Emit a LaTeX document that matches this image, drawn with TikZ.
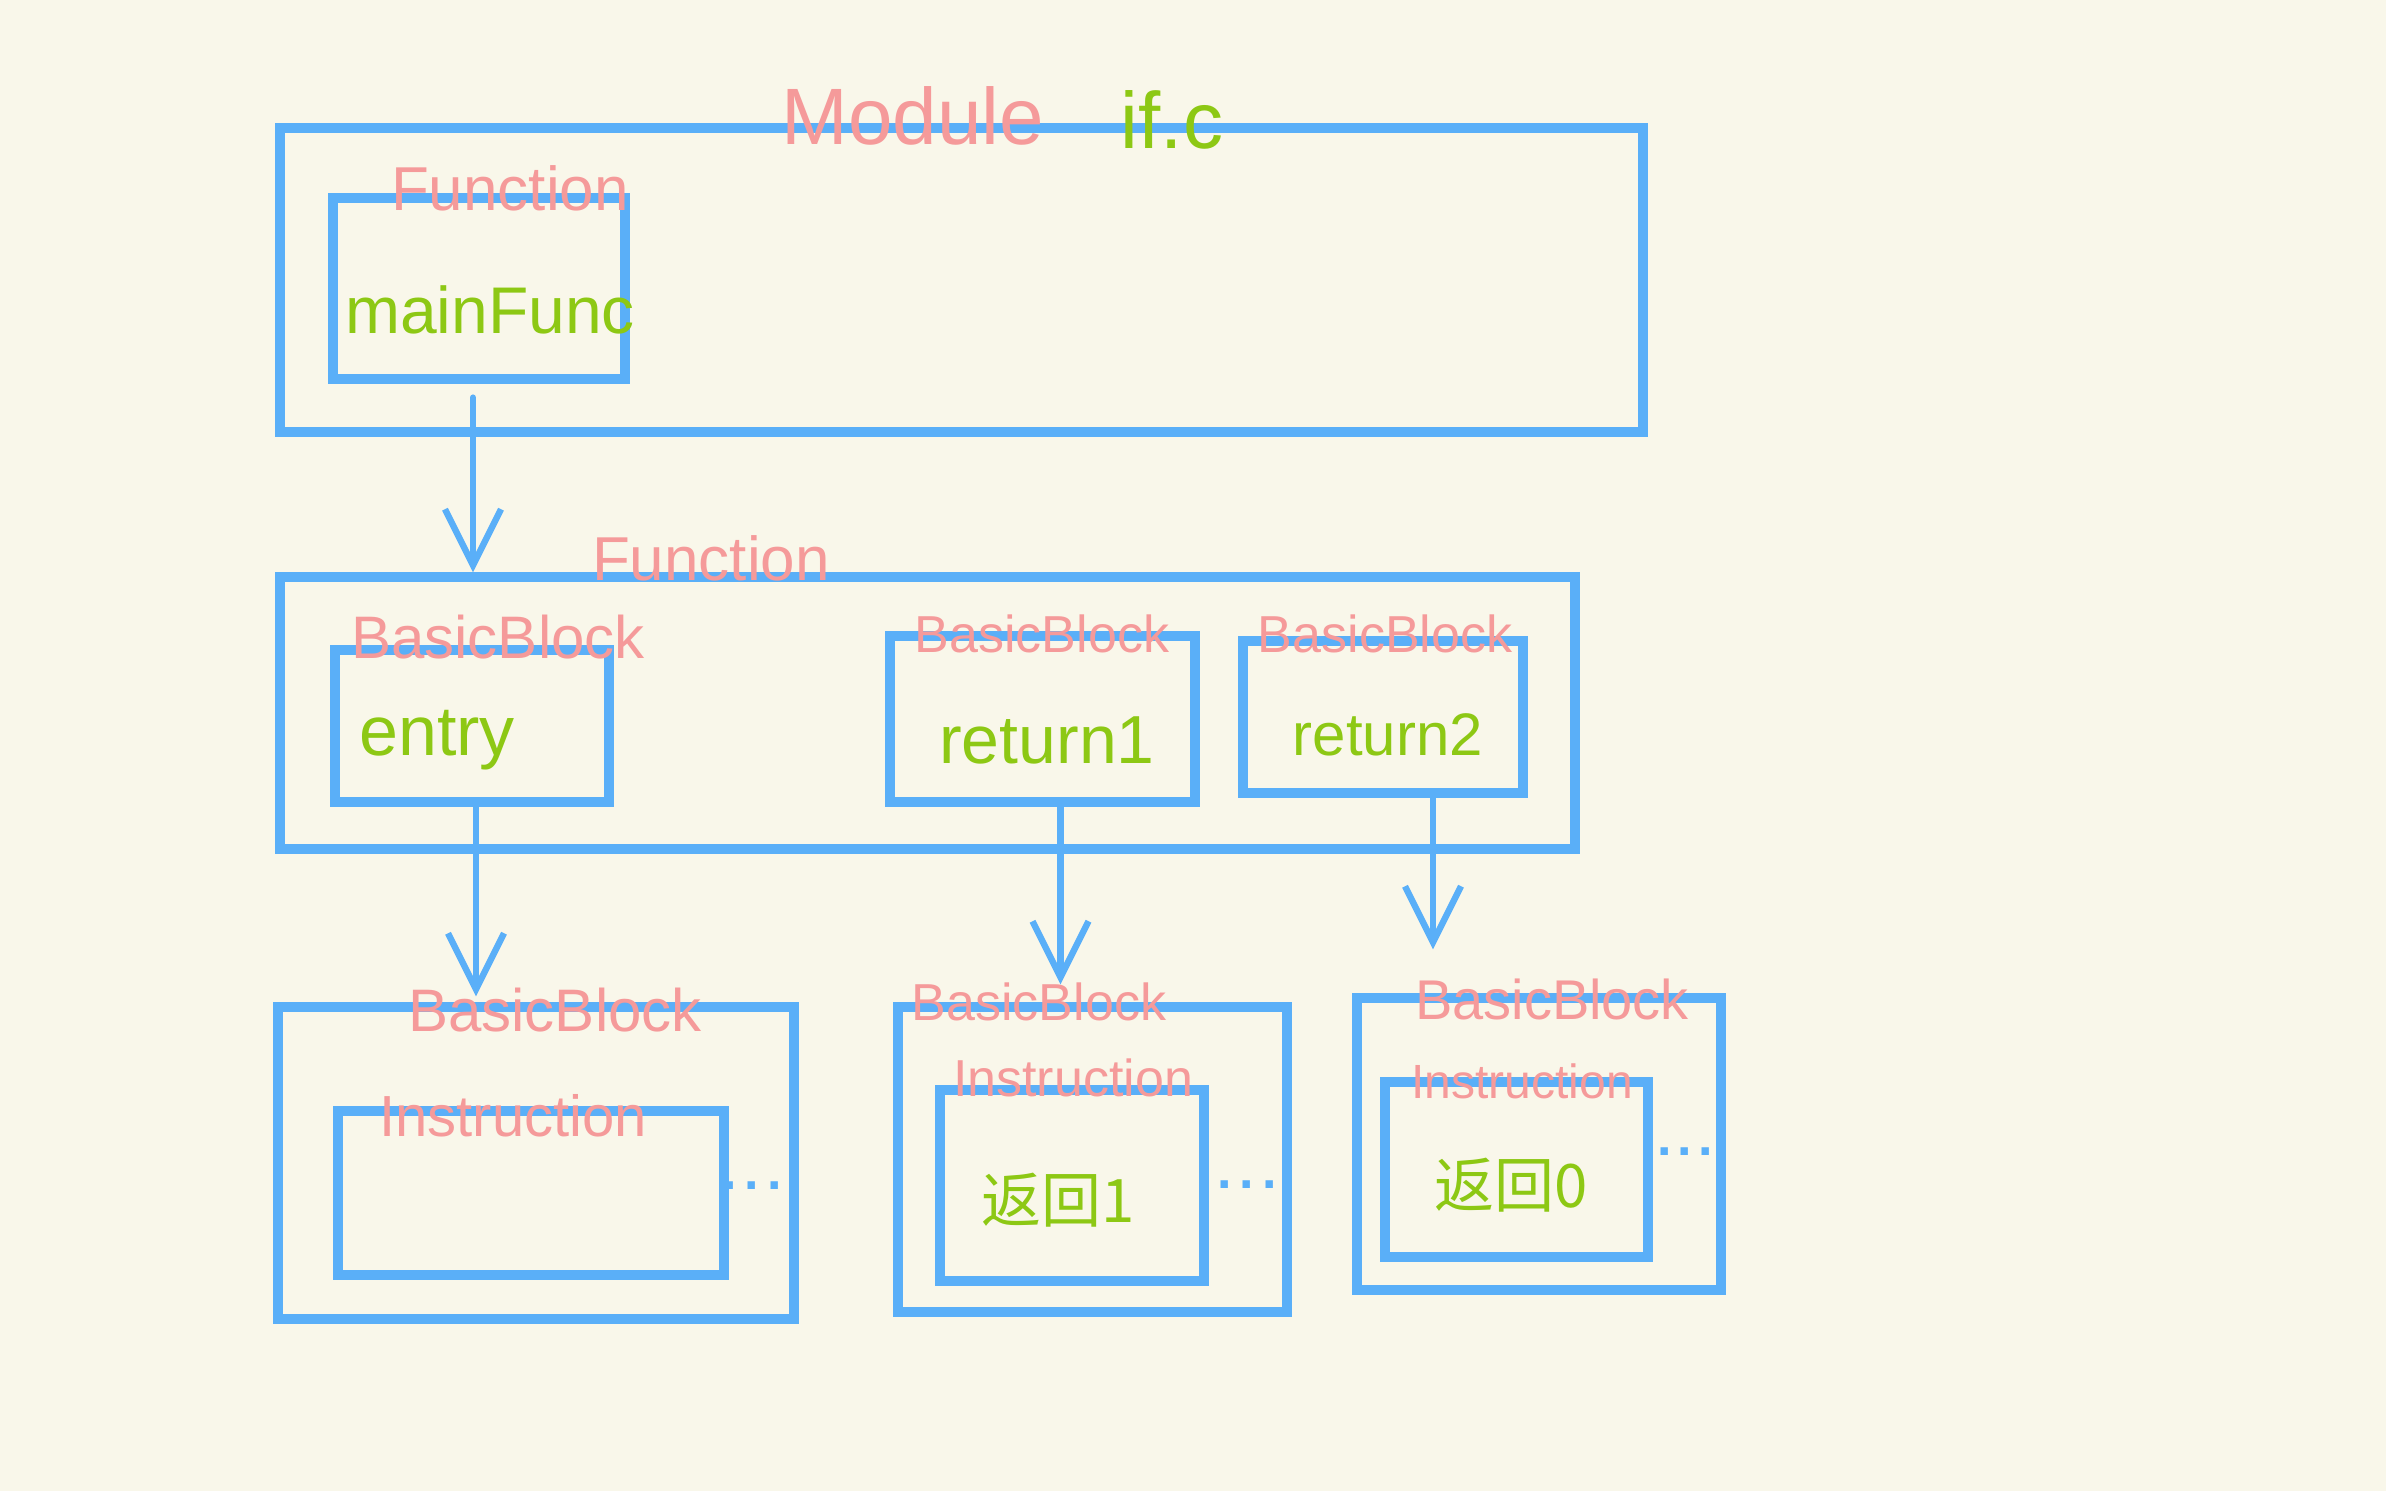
\documentclass[tikz,border=0pt]{standalone}
\usepackage{fontspec}
\setmainfont{Liberation Sans}
\newfontfamily\cjk{Noto Sans CJK SC}
\usetikzlibrary{arrows.meta}
\definecolor{bgc}{HTML}{F9F7EA}
\definecolor{bluec}{HTML}{5AAFF8}
\definecolor{pinkc}{HTML}{F59A9A}
\definecolor{greenc}{HTML}{8DC814}
\tikzset{
  box/.style={draw=bluec, line width=4.6pt, rectangle, inner sep=0pt},
  arr/.style={draw=bluec, line width=3.2pt, line cap=round, -{Straight Barb[length=28pt,width=28pt,line width=3.2pt]}},
  pl/.style={text=pinkc, inner sep=0pt, font=\fontsize{#1}{#1}\selectfont},
  gl/.style={text=greenc, inner sep=0pt, font=\fontsize{#1}{#1}\selectfont},
  dots/.style={text=bluec, inner sep=0pt, font=\fontsize{26}{26}\selectfont\bfseries},
}
\begin{document}
\begin{tikzpicture}[x=0.5pt,y=-0.5pt]
\fill[bgc] (0,0) rectangle (2386,1491);
\useasboundingbox (0,0) rectangle (2386,1491);
% Module
\node[box, minimum width=681.5pt, minimum height=152pt] (mod) at (961.5,280) {};
\node[pl=40] (modl) at (913,116) {Module};
\node[gl=40] (ifc) at (1172,120) {if.c};
\node[box, minimum width=146pt, minimum height=90.5pt] (func) at (479,288.5) {};
\node[pl=31] (funcl) at (510,188) {Function};
\node[gl=33] (mainf) at (490,310) {mainFunc};
% Function
\node[box, minimum width=647.5pt, minimum height=136pt] (fn) at (927.5,713) {};
\node[pl=31] (fnl) at (711,558) {Function};
\node[box, minimum width=137pt, minimum height=76pt] (bbe) at (472,726) {};
\node[pl=30] (bbel) at (498,637) {BasicBlock};
\node[gl=35] (entry) at (437,740) {entry};
\node[box, minimum width=152.5pt, minimum height=83pt] (bbr1) at (1042.5,719) {};
\node[pl=26] (bbr1l) at (1042,634) {BasicBlock};
\node[gl=34] (ret1) at (1047,740) {return1};
\node[box, minimum width=140pt, minimum height=76pt] (bbr2) at (1383,717) {};
\node[pl=26] (bbr2l) at (1385,634) {BasicBlock};
\node[gl=30] (ret2) at (1388,735) {return2};
% bottom blocks
\node[box, minimum width=258pt, minimum height=156pt] (b1) at (536,1163) {};
\node[pl=30] (b1l) at (555,1010) {BasicBlock};
\node[box, minimum width=193pt, minimum height=82pt] (i1) at (531,1193) {};
\node[pl=29] (i1l) at (513,1116) {Instruction};
\node[dots] (d1) at (752,1186) {.\kern4pt.\kern4pt.};
\node[box, minimum width=194.5pt, minimum height=152.5pt] (b2) at (1092.5,1159.5) {};
\node[pl=26] (b2l) at (1039,1002) {BasicBlock};
\node[box, minimum width=132pt, minimum height=95.5pt] (i2) at (1072,1185.5) {};
\node[pl=26] (i2l) at (1073,1078) {Instruction};
\node[gl=30] (r1c) at (1058,1200) {\cjk 返回1};
\node[dots] (d2) at (1247,1185) {.\kern4pt.\kern4pt.};
\node[box, minimum width=182pt, minimum height=146pt] (b3) at (1539,1144) {};
\node[pl=28] (b3l) at (1552,999) {BasicBlock};
\node[box, minimum width=131.5pt, minimum height=87.5pt] (i3) at (1516.5,1169.5) {};
\node[pl=24] (i3l) at (1522,1081) {Instruction};
\node[gl=30] (r0c) at (1511,1185) {\cjk 返回0};
\node[dots] (d3) at (1685,1152) {.\kern3pt.\kern3pt.};
% arrows
\draw[arr] ([xshift=-3pt,yshift=-7pt]func.south) -- ([xshift=-3pt]func.south |- fn.north);
\draw[arr] ([xshift=2pt]bbe.south) -- ([xshift=2pt,yshift=3pt]bbe.south |- b1.north);
\draw[arr] ([xshift=9pt]bbr1.south) -- ([xshift=9pt,yshift=9pt]bbr1.south |- b2.north);
\draw[arr] ([xshift=25pt]bbr2.south) -- ([xshift=25pt,yshift=22pt]bbr2.south |- b3.north);
\end{tikzpicture}
\end{document}
